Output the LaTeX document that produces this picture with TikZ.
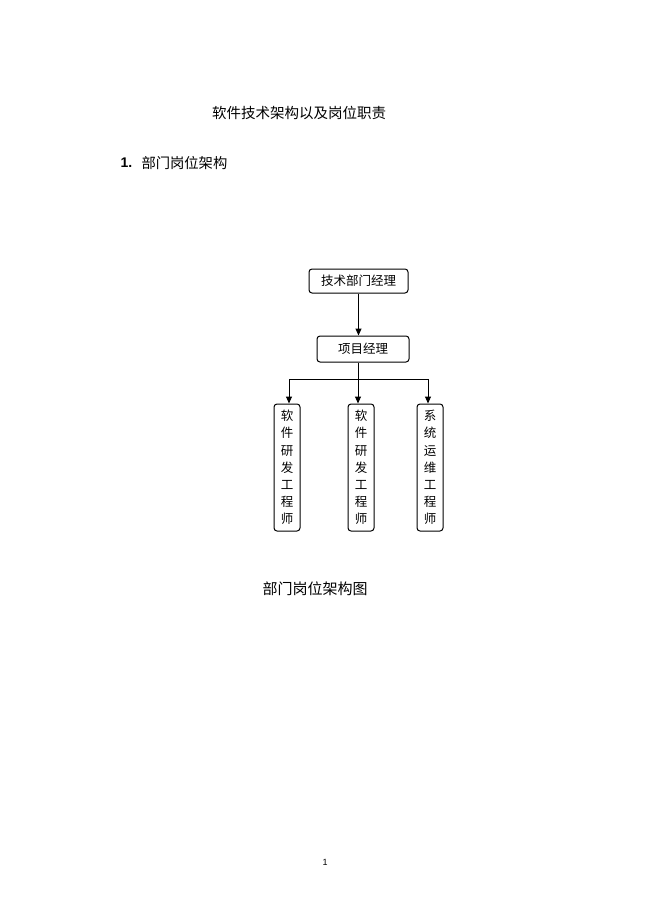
\documentclass[tikz,border=0pt]{standalone}
\usepackage{fontspec}
\setmainfont{Liberation Sans}
\newfontfamily\cjk{Noto Sans CJK SC}
\usetikzlibrary{arrows.meta}
\tikzset{
  box/.style={draw,rounded corners=3pt,line width=1pt,inner sep=0pt,font=\cjk\fontsize{12.5}{12.5}\selectfont},
  vbox/.style={box,minimum width=26pt,minimum height=127pt,align=center,font=\cjk\fontsize{12.5}{17.2}\selectfont},
  arr/.style={-{Triangle[length=7pt,width=6pt]},line width=1pt}
}
\begin{document}
\begin{tikzpicture}[x=1pt,y=-1pt]
\useasboundingbox[fill=white] (0,0) rectangle (649,920);
\node[font=\cjk\fontsize{14.5}{14.5}\selectfont] (title) at (299,113) {软件技术架构以及岗位职责};
\node[anchor=west,font=\fontsize{14}{14}\selectfont\bfseries] (num) at (117,163) {1.};
\node[anchor=west,font=\cjk\fontsize{14.3}{14.3}\selectfont] (sec) at (138,163) {部门岗位架构};

\node[box,minimum width=99pt,minimum height=24pt] (head) at (358.5,281) {技术部门经理};
\node[box,minimum width=92pt,minimum height=26pt] (pm) at (363,349) {项目经理};
\node[vbox] (dev1) at (287,467.5) {软\\件\\研\\发\\工\\程\\师};
\node[vbox] (dev2) at (361,467.5) {软\\件\\研\\发\\工\\程\\师};
\node[vbox] (ops) at (430,467.5) {系\\统\\运\\维\\工\\程\\师};
\coordinate (fork) at (358,379);

\draw[arr] (head.south) -- (head.south |- pm.north);
\draw[line width=1pt] (fork |- pm.south) -- (fork);
\draw[arr] (fork) -| ([xshift=2pt]dev1.north);
\draw[arr] (fork) -- (fork |- dev2.north);
\draw[arr] (fork) -| ([xshift=-2pt]ops.north);

\node[font=\cjk\fontsize{15}{15}\selectfont] (cap) at (315,589) {部门岗位架构图};
\node[font=\fontsize{9}{9}\selectfont] (page) at (325,862) {1};
\end{tikzpicture}
\end{document}
